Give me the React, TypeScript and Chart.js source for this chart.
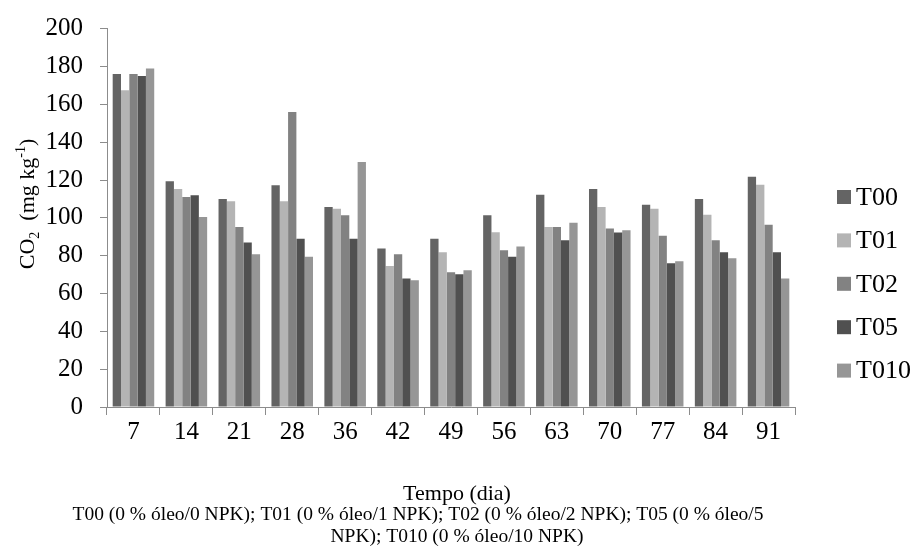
import React, { useEffect, useRef } from "react";
import { Chart, registerables } from "chart.js";

Chart.register(...registerables);

const days = ["7", "14", "21", "28", "36", "42", "49", "56", "63", "70", "77", "84", "91"];
const seriesNames = ["T00", "T01", "T02", "T05", "T010"];
const seriesColors = ["#646464", "#b4b4b4", "#828282", "#505050", "#969696"];
const t00 = [176, 119.4, 110, 117.3, 105.8, 83.8, 89, 101.4, 112.2, 115.3, 106.9, 110, 121.7];
const t01 = [167.5, 115.3, 108.8, 108.8, 104.8, 74.6, 81.8, 92.4, 95.2, 105.8, 104.8, 101.6, 117.5];
const t02 = [176, 111, 95.2, 156, 101.4, 80.8, 71.2, 82.9, 95.2, 94.4, 90.5, 88.2, 96.3];
const t05 = [175, 112, 87, 89, 89, 68, 70.2, 79.5, 88.2, 92.2, 76, 81.8, 81.8];
const t010 = [179, 100.5, 80.8, 79.5, 129.5, 67, 72.3, 84.8, 97.4, 93.5, 77.1, 78.7, 68];
const seriesValues = [t00, t01, t02, t05, t010];
const yTicks = { min: 0, max: 200, step: 20 };
const xTitle = "Tempo (dia)";
const footnoteLines = [
  "T00 (0 % óleo/0 NPK); T01 (0 % óleo/1 NPK); T02 (0 % óleo/2 NPK); T05 (0 % óleo/5",
  "NPK); T010 (0 % óleo/10 NPK)",
];

const FONT = '"Liberation Serif", "Times New Roman", serif';

const extrasPlugin = {
  id: "extras",
  afterDraw(chart: any) {
    const ctx = chart.ctx as CanvasRenderingContext2D;
    ctx.save();
    ctx.fillStyle = "#000";
    // legend
    const legendTop = 197;
    const legendGap = 43.4;
    chart.data.datasets.forEach((ds: any, i: number) => {
      const cy = legendTop + i * legendGap;
      ctx.fillStyle = ds.backgroundColor;
      ctx.fillRect(837, cy - 7, 14, 14);
      ctx.fillStyle = "#000";
      ctx.font = `26px ${FONT}`;
      ctx.textAlign = "left";
      ctx.textBaseline = "middle";
      ctx.fillText(ds.label, 856, cy + 1);
    });
    // y title with subscript / superscript
    const parts = [
      { t: "CO", size: 22, dy: 0 },
      { t: "2", size: 14, dy: 5 },
      { t: "  (mg kg", size: 22, dy: 0 },
      { t: "-1", size: 14, dy: -9 },
      { t: ")", size: 22, dy: 0 },
    ];
    let total = 0;
    parts.forEach((p) => {
      ctx.font = `${p.size}px ${FONT}`;
      total += ctx.measureText(p.t).width;
    });
    ctx.translate(26, 204);
    ctx.rotate(-Math.PI / 2);
    ctx.textAlign = "left";
    ctx.textBaseline = "alphabetic";
    let x = -total / 2;
    parts.forEach((p) => {
      ctx.font = `${p.size}px ${FONT}`;
      ctx.fillText(p.t, x, 8 + p.dy);
      x += ctx.measureText(p.t).width;
    });
    ctx.setTransform(1, 0, 0, 1, 0, 0);
    // x title and footnote
    ctx.textAlign = "center";
    ctx.textBaseline = "middle";
    ctx.font = `22px ${FONT}`;
    ctx.fillText(xTitle, 457, 494);
    ctx.font = `19.5px ${FONT}`;
    ctx.fillText(footnoteLines[0], 418, 515);
    ctx.fillText(footnoteLines[1], 457, 537);
    ctx.restore();
  },
};

export default function App() {
  const ref = useRef<HTMLCanvasElement | null>(null);
  useEffect(() => {
    if (!ref.current) return;
    const chart = new Chart(ref.current, {
      type: "bar",
      data: {
        labels: days,
        datasets: seriesNames.map((name, i) => ({
          label: name,
          data: seriesValues[i],
          backgroundColor: seriesColors[i],
          borderWidth: 0,
          barPercentage: 1,
          categoryPercentage: 0.785,
        })),
      },
      options: {
        animation: false,
        responsive: false,
        maintainAspectRatio: false,
        layout: { padding: { top: 28.7, right: 119, left: 0, bottom: 0 } },
        plugins: { legend: { display: false }, tooltip: { enabled: false } },
        scales: {
          x: {
            grid: { offset: true, drawOnChartArea: false, drawTicks: true, tickLength: 8, color: "#8c8c8c" },
            border: { display: true, color: "#8c8c8c", width: 1 },
            ticks: { color: "#000", font: { family: FONT, size: 25 }, padding: 2, maxRotation: 0 },
            afterFit: (s: any) => { s.height = 147; },
          },
          y: {
            min: yTicks.min,
            max: yTicks.max,
            grid: { drawOnChartArea: false, drawTicks: true, tickLength: 7, color: "#8c8c8c" },
            border: { display: true, color: "#8c8c8c", width: 1 },
            ticks: { stepSize: yTicks.step, color: "#000", font: { family: FONT, size: 25 }, padding: 17 },
            afterFit: (s: any) => { s.width = 107; s.paddingTop = 0; s.paddingBottom = 0; },
          },
        },
      },
      plugins: [extrasPlugin],
    });
    return () => chart.destroy();
  }, []);
  return (
    <div style={{ position: "fixed", left: 0, top: 0, width: 914, height: 554, background: "#fff" }}>
      <canvas ref={ref} width={914} height={554} style={{ width: 914, height: 554 }} />
    </div>
  );
}
